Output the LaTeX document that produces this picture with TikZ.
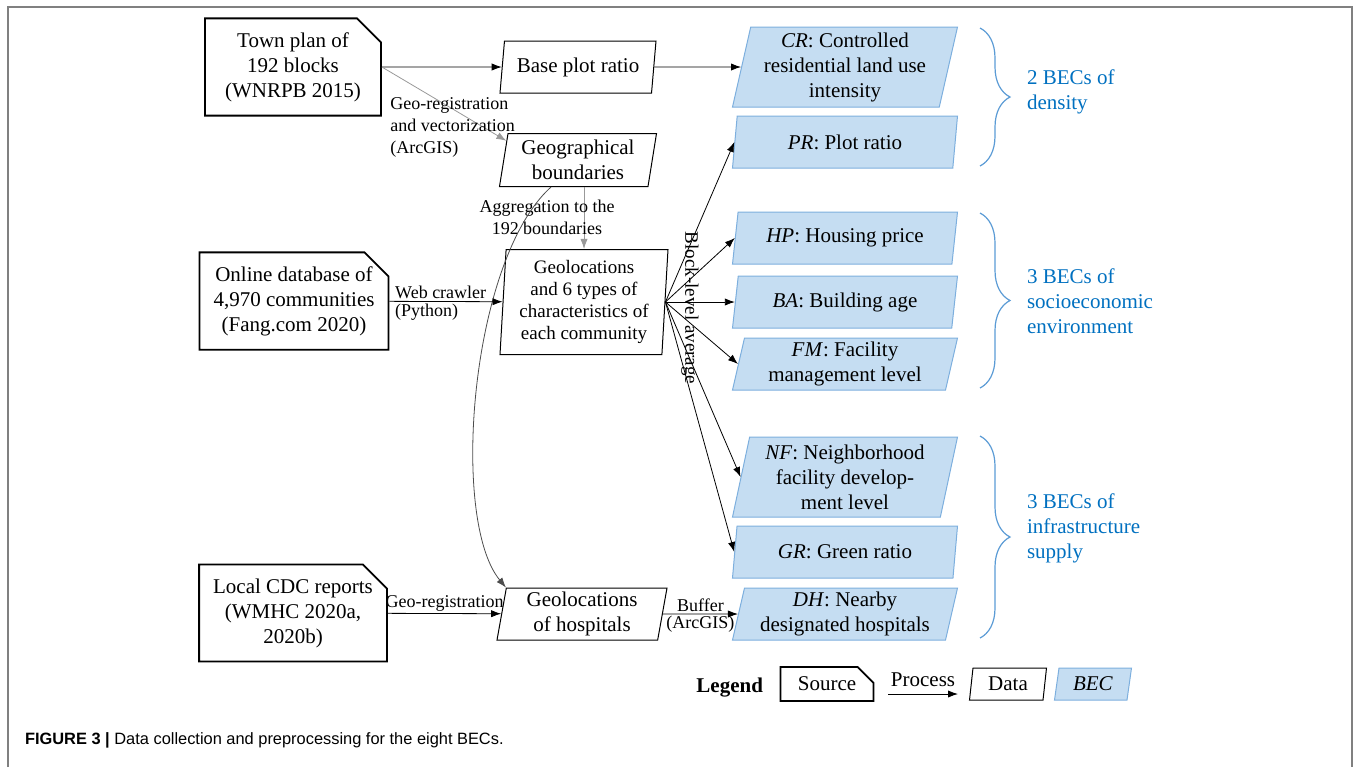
\documentclass[tikz,border=0pt]{standalone}
\usepackage{fontspec}
\setmainfont{Liberation Serif}
\newfontfamily\capfont{Liberation Sans}
\usetikzlibrary{arrows.meta,shapes.geometric,shapes.misc,decorations.pathreplacing}
\definecolor{becfill}{RGB}{197,221,242}
\definecolor{becdraw}{RGB}{125,175,222}
\definecolor{bracecol}{RGB}{91,155,213}
\definecolor{becblue}{RGB}{0,112,192}
\newcommand{\mainsize}{\rmfamily\fontsize{10.5}{12.5}\selectfont}
\tikzset{
  sourcebox/.style={chamfered rectangle, chamfered rectangle corners=north east,
    chamfered rectangle sep=6pt, draw, line width=0.9pt, align=center,
    minimum width=88pt, minimum height=40pt, inner sep=1pt, font=\mainsize},
  databox/.style={trapezium, trapezium left angle=79, trapezium right angle=101,
    trapezium stretches body, draw, line width=0.5pt, align=center, inner sep=1pt,
    font=\mainsize},
  becbox/.style={databox, fill=becfill, draw=becdraw, trapezium left angle=76,
    trapezium right angle=104, minimum width=112.5pt},
  lbl/.style={font=\rmfamily\fontsize{9}{11}\selectfont, inner sep=1pt},
  grp/.style={text=becblue, align=left, anchor=west, font=\mainsize},
  bracket/.style={decorate, decoration={brace, amplitude=15pt}, draw=bracecol, line width=0.6pt}
}
\begin{document}
\begin{tikzpicture}[>={Latex[length=5pt,width=3.6pt]}, x=0.5pt, y=-0.5pt]
	\useasboundingbox (0,0) rectangle (1354,767);
	\draw [gray, line width=1pt] (8,767) -- (8,7) -- (1352,7) -- (1352,767);
	% sources
	\node [sourcebox] (town) at (293,67) {Town plan of\\192 blocks\\(WNRPB 2015)};
	\node [sourcebox] (online) at (294,301) {Online database of\\4,970 communities\\(Fang.com 2020)};
	\node [sourcebox] (cdc) at (293,613) {Local CDC reports\\(WMHC 2020a,\\2020b)};
	% data
	\node [databox, minimum width=78pt, minimum height=26pt] (base) at (578,67) {Base plot ratio};
	\node [databox, minimum width=78.5pt, minimum height=26.5pt] (bound) at (578,160) {Geographical\\boundaries};
	\node [databox, trapezium left angle=86, trapezium right angle=94, minimum width=84pt,
		minimum height=52.5pt, font=\rmfamily\fontsize{9.5}{11}\selectfont] (comm) at (584,302)
		{Geolocations\\and 6 types of\\characteristics of\\each community};
	\node [databox, minimum width=85pt, minimum height=26pt] (hosp) at (582,614) {Geolocations\\of hospitals};
	% BECs
	\node [becbox, minimum height=40pt] (cr) at (845,67) {\textit{CR}: Controlled\\residential land use\\intensity};
	\node [becbox, minimum height=26pt] (pr) at (845,142) {\textit{PR}: Plot ratio};
	\node [becbox, minimum height=26pt] (hp) at (845,238) {\textit{HP}: Housing price};
	\node [becbox, minimum height=26pt] (ba) at (845,302) {\textit{BA}: Building age};
	\node [becbox, minimum height=26pt] (fm) at (845,364) {\textit{FM}: Facility\\management level};
	\node [becbox, minimum height=40pt] (nf) at (845,477) {\textit{NF}: Neighborhood\\facility develop-\\ment level};
	\node [becbox, minimum height=26pt] (gr) at (845,552) {\textit{GR}: Green ratio};
	\node [becbox, minimum height=26pt] (dh) at (845,614) {\textit{DH}: Nearby\\designated hospitals};
	% processes
	\draw [->] (town) -- (base);
	\draw [->] (base) -- (cr);
	\draw [->, black!40] (town.east) -- (bound.165);
	\node [lbl, align=left, anchor=north west] (georeg) at (388,95) {Geo-registration\\and vectorization\\(ArcGIS)};
	\draw [->, black!40] (comm.north |- bound.south) -- (comm.north);
	\node [lbl, align=center] (aggr) at (547,217) {Aggregation to the\\192 boundaries};
	\draw [->, black!70] (bound.-135) .. controls (470,260) and (450,520) .. (hosp.top left corner);
	\draw [->] (online) -- (comm) node [lbl, pos=0.03, anchor=south west] {Web crawler}
		node [lbl, pos=0.03, anchor=north west] {(Python)};
	\draw [->] (cdc) -- (hosp) node [lbl, midway, above] {Geo-registration};
	\draw [->] (hosp) -- (dh) node [lbl, midway, above] {Buffer} node [lbl, midway, below] {(ArcGIS)};
	\foreach \t in {pr,hp,ba,fm,nf,gr}
		\draw [->] (comm.right side) -- (\t.left side);
	\node [lbl, rotate=-90, font=\rmfamily\fontsize{9.5}{11}\selectfont] (blk) at (690,308) {Block-level average};
	% groups
	\draw [bracket] (980,28) -- (980,166);
	\node [grp] (dens) at (1020,92) {2 BECs of\\density};
	\draw [bracket] (980,213) -- (980,388);
	\node [grp] (socio) at (1020,301) {3 BECs of\\socioeconomic\\environment};
	\draw [bracket] (980,436) -- (980,638);
	\node [grp] (infra) at (1020,528) {3 BECs of\\infrastructure\\supply};
	% legend
	\node [anchor=east, font=\mainsize\bfseries] (legend) at (770,688) {Legend};
	\node [sourcebox, chamfered rectangle sep=4pt, minimum width=46.5pt, minimum height=16pt] (lsrc) at (827,684) {Source};
	\coordinate (pa) at (888,694);
	\coordinate (pb) at (958,694);
	\draw [->] (pa) -- (pb) node [midway, above, font=\mainsize] {Process};
	\node [databox, minimum width=38.5pt, minimum height=16pt] (ldata) at (1008,684) {Data};
	\node [becbox, minimum width=38.5pt, minimum height=16pt] (lbec) at (1093,684) {\textit{BEC}};
	% caption
	\node [anchor=west, font=\capfont\fontsize{8.2}{10}\selectfont] (cap) at (18,740)
		{\textbf{FIGURE 3 |} Data collection and preprocessing for the eight BECs.};
\end{tikzpicture}
\end{document}
